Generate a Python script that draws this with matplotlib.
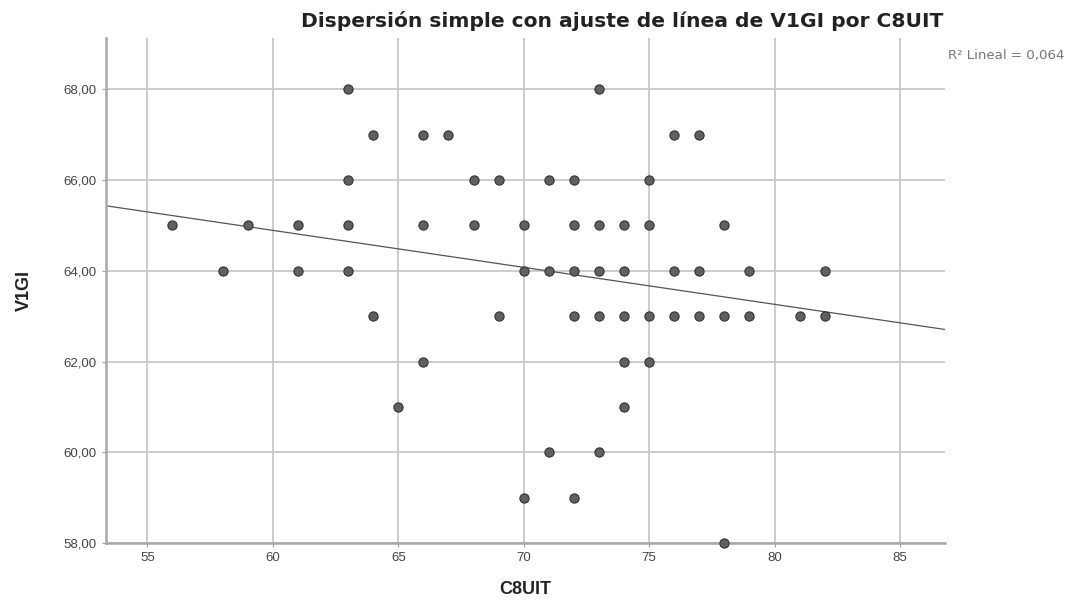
import matplotlib.pyplot as plt
import numpy as np

# puntos, agrupados por valor de V1GI
v1gi_levels = [68, 67, 66, 65, 64, 63, 62, 61, 60, 59, 58]
c8uit_by_level = [
    [63, 73],
    [64, 66, 67, 76, 77],
    [63, 68, 69, 71, 72, 75],
    [56, 59, 61, 63, 66, 68, 70, 72, 73, 74, 75, 78],
    [58, 61, 63, 70, 71, 72, 73, 74, 76, 77, 79, 82],
    [64, 69, 72, 73, 74, 75, 76, 77, 78, 79, 81, 82],
    [66, 74, 75],
    [65, 74],
    [71, 73],
    [70, 72],
    [78],
]

# recta de ajuste (intercepto, pendiente)
fit_intercept = 69.78
fit_slope = -0.0815
r2_text = "R² Lineal = 0,064"

x_ticks = [55, 60, 65, 70, 75, 80, 85]
y_ticks = [58, 60, 62, 64, 66, 68]

x = []
y = []
for lvl, xs in zip(v1gi_levels, c8uit_by_level):
    for v in xs:
        x.append(v)
        y.append(lvl)
x = np.array(x)
y = np.array(y)

plt.rcParams['font.family'] = ['Liberation Sans', 'DejaVu Sans']

fig = plt.figure(figsize=(10.74, 6.03), dpi=100)
ax = fig.add_axes([0.0987, 0.0995, 0.7813, 0.8375])

ax.set_xlim(53.35, 86.8)
ax.set_ylim(58, 69.13)

ax.set_xticks(x_ticks)
ax.set_yticks(y_ticks)
ax.set_yticklabels([f"{v:.2f}".replace('.', ',') for v in y_ticks])

ax.grid(True, color='#c8c8c8', linewidth=1.3)
ax.set_axisbelow(True)

for s in ['top', 'right']:
    ax.spines[s].set_visible(False)
for s in ['left', 'bottom']:
    ax.spines[s].set_color('#a8a8a8')
    ax.spines[s].set_linewidth(1.8)

ax.tick_params(colors='#a0a0a0', labelcolor='#444444', labelsize=9.5, length=3)

ax.scatter(x, y, s=44, color='#606060', edgecolor='#333333', linewidth=0.8,
           zorder=3, clip_on=False)

xl = np.array(ax.get_xlim())
ax.plot(xl, fit_intercept + fit_slope * xl, color='#555555', linewidth=0.9, zorder=2)

ax.set_xlabel("C8UIT", fontsize=13, fontweight='bold', color='#222222', labelpad=12)
ax.set_ylabel("V1GI", fontsize=13, fontweight='bold', color='#222222', labelpad=22)

fig.text(0.5795, 0.966, "Dispersión simple con ajuste de línea de V1GI por C8UIT",
         ha='center', va='center', fontsize=14.6, fontweight='bold', color='#222222',
         family='DejaVu Sans')
fig.text(0.883, 0.908, r2_text, ha='left', va='center', fontsize=9.6, color='#777777',
         family='DejaVu Sans')

fig.savefig("out.png", dpi=100)
